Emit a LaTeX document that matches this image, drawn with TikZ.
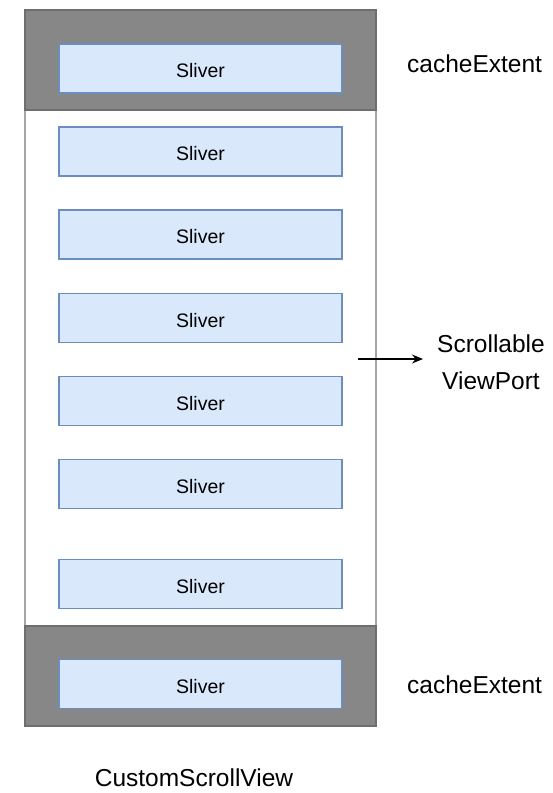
\documentclass[tikz,border=0pt]{standalone}
\usepackage{fontspec}
\setmainfont{Liberation Sans}
\usetikzlibrary{arrows.meta}
\definecolor{sliverfill}{HTML}{DAE8FC}
\definecolor{sliverline}{HTML}{6C8EBF}
\definecolor{bandfill}{HTML}{878787}
\definecolor{bandline}{HTML}{6E6E6E}
\definecolor{frameline}{HTML}{A6A6A6}
\tikzset{
  sliver/.style={draw=sliverline, fill=sliverfill, line width=1.3pt,
    minimum width=283pt, minimum height=49pt, inner sep=0pt,
    text height=18.4pt, text depth=0pt,
    font=\fontsize{19.5}{23}\selectfont},
  band/.style={draw=bandline, fill=bandfill, line width=1.2pt},
  frame/.style={draw=frameline, line width=1.2pt},
  lbl/.style={font=\fontsize{24.5}{29}\selectfont, inner sep=0pt},
  conn/.style={line width=1.3pt, -{Stealth[length=11pt,width=9pt]}}
}
\begin{document}
\begin{tikzpicture}[x=1pt,y=-1pt]
\useasboundingbox (0,0) rectangle (553,793);
\fill[white] (0,0) rectangle (553,793);
\draw[frame] (25,10) rectangle (376,726);
\draw[band] (25,10) rectangle (376,110);
\draw[band] (25,626) rectangle (376,726);
\node[sliver] (s0) at (200.5,68.5) {Sliver};
\node[sliver] (s1) at (200.5,151.5) {Sliver};
\node[sliver] (s2) at (200.5,234.5) {Sliver};
\node[sliver] (s3) at (200.5,318) {Sliver};
\node[sliver] (s4) at (200.5,401) {Sliver};
\node[sliver] (s5) at (200.5,484) {Sliver};
\node[sliver] (s6) at (200.5,584) {Sliver};
\node[sliver] (s7) at (200.5,684) {Sliver};
\node[lbl, anchor=base west] (ctop) at (407,72) {cacheExtent};
\node[lbl, anchor=base west] (cbot) at (407,693) {cacheExtent};
\node[lbl, anchor=base] (csv) at (194,786) {CustomScrollView};
\node[font=\fontsize{24.5}{37}\selectfont, align=center, inner xsep=14pt, inner ysep=0pt] (svp) at (491,362.5) {Scrollable\\ViewPort};
\coordinate (astart) at (358,359);
\draw[conn] (astart) -- (svp.west |- astart);
\end{tikzpicture}
\end{document}
